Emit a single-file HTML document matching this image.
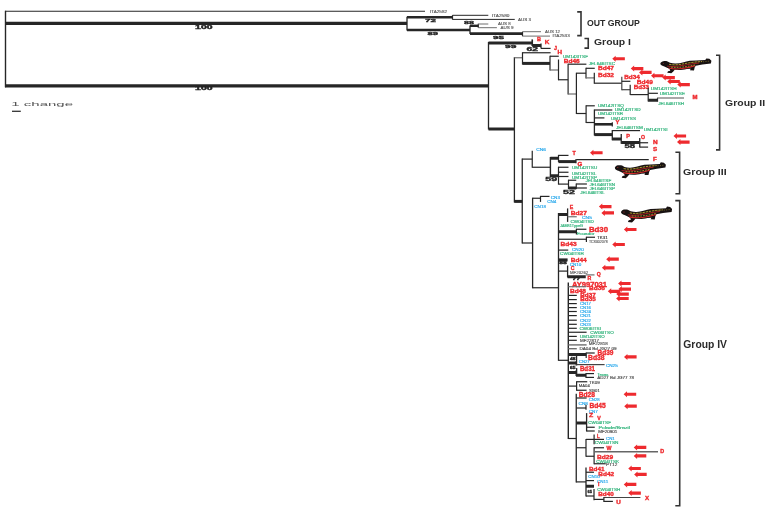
<!DOCTYPE html>
<html><head><meta charset="utf-8"><style>
html,body{margin:0;padding:0;background:#fff;}
svg{display:block;}
text{font-family:"Liberation Sans",sans-serif;}
svg{will-change:transform;}
</style></head><body>
<svg width="768" height="512" viewBox="0 0 768 512">
<defs><g id="sal">
<path d="M0.2,5.7 C0.8,4.2 2,3.4 3.2,3.3 C4.5,3.1 6,3.0 7.5,3.6 L9.9,4.9 C12,5.5 14,5.8 15.7,5.7 C18,5.5 20.5,5.0 22.7,4.5 C25,3.8 27.5,3.1 29.8,2.75 L36,2.4 L45.2,1.9 L46.2,0.25 L49.3,0.7 L51.3,2.8 L50.8,5.6 L42.3,6.7 L35.6,8.0 L34.6,9.8 L33.9,13.1 L29.8,12.9 L30.6,11.4 L26.65,11.7 C24,12.3 21,12.8 18.8,12.8 L14.6,12.4 L13.2,14.3 L11.2,16.3 L7.1,15.7 L7.9,14.0 L10.2,13.4 L9.3,11.4 C7.6,10.6 6.2,9.9 4.8,9.2 C3.4,8.6 2,8.2 1.3,7.7 C0.6,7.2 0.2,6.5 0.2,5.7 Z" fill="#181212"/>
<path d="M7,8.6 C11,9.0 15,9.0 19,8.4 C24,7.6 29,6.6 34,5.8 L39,5.2" fill="none" stroke="#c42626" stroke-width="0.8"/>
<path d="M8.5,10.6 C12,11.4 17,11.8 22,11.2 C27,10.5 31,9.6 35,8.2" fill="none" stroke="#d42a2a" stroke-width="1.1"/>
<path d="M9,6.6 C13,7.4 17,7.2 21,6.5 C26,5.5 31,4.6 36,4.0 L42,3.6" fill="none" stroke="#d8c03a" stroke-width="0.8" stroke-dasharray="2.4 0.8"/>
<path d="M11,9.7 C16,10.1 21,9.8 26,9.0 C29,8.5 32,7.9 35,7.2" fill="none" stroke="#d8c03a" stroke-width="0.7" stroke-dasharray="1.8 1.0"/>
<path d="M43,3.9 L49,3.2" fill="none" stroke="#a89a3a" stroke-width="0.6" stroke-dasharray="1 1.4"/>
<circle cx="3.2" cy="5.6" r="0.5" fill="#c83030"/>
</g></defs>
<rect width="768" height="512" fill="#fff"/>
<line x1="5.5" y1="10.8" x2="5.5" y2="87.3" stroke="#262626" stroke-width="1.4"/>
<line x1="5" y1="11.3" x2="425" y2="11.3" stroke="#262626" stroke-width="1.1"/>
<line x1="5" y1="23.4" x2="407" y2="23.4" stroke="#262626" stroke-width="3.2"/>
<line x1="5" y1="85.8" x2="489" y2="85.8" stroke="#262626" stroke-width="3.2"/>
<text transform="translate(195.1,28.55) scale(0.1)" font-size="45.06" fill="#222" font-weight="bold" stroke="#222" stroke-width="3" textLength="175" lengthAdjust="spacingAndGlyphs">100</text>
<text transform="translate(195.1,90.15) scale(0.1)" font-size="45.06" fill="#222" font-weight="bold" stroke="#222" stroke-width="3" textLength="175" lengthAdjust="spacingAndGlyphs">100</text>
<text transform="translate(11.3,106) scale(0.1)" font-size="49.42" fill="#555" textLength="617" lengthAdjust="spacingAndGlyphs">1 change</text>
<line x1="12" y1="111.3" x2="20.8" y2="111.3" stroke="#333" stroke-width="1.3"/>
<line x1="407" y1="16.7" x2="407" y2="30.5" stroke="#262626" stroke-width="1.3"/>
<line x1="407" y1="17.2" x2="452.5" y2="17.2" stroke="#262626" stroke-width="2.6"/>
<line x1="452.5" y1="15.2" x2="452.5" y2="19.6" stroke="#262626" stroke-width="1.2"/>
<line x1="452.5" y1="15.3" x2="488.3" y2="15.3" stroke="#262626" stroke-width="1"/>
<text transform="translate(492,16.5) scale(0.1)" font-size="37.79" fill="#555" stroke="#555" stroke-width="1.2" textLength="175" lengthAdjust="spacingAndGlyphs">ITA2580</text>
<line x1="452.5" y1="19.4" x2="514.75" y2="19.4" stroke="#262626" stroke-width="1"/>
<text transform="translate(518,20.7) scale(0.1)" font-size="37.79" fill="#555" stroke="#555" stroke-width="1.2" textLength="130" lengthAdjust="spacingAndGlyphs">AUS 3</text>
<text transform="translate(430,12.5) scale(0.1)" font-size="37.79" fill="#555" stroke="#555" stroke-width="1.2" textLength="170" lengthAdjust="spacingAndGlyphs">ITA2582</text>
<text transform="translate(425,21.9) scale(0.1)" font-size="43.6" fill="#222" font-weight="bold" stroke="#222" stroke-width="3" textLength="110" lengthAdjust="spacingAndGlyphs">72</text>
<line x1="407" y1="30" x2="470" y2="30" stroke="#262626" stroke-width="2.6"/>
<text transform="translate(427.5,34.8) scale(0.1)" font-size="40.7" fill="#222" font-weight="bold" stroke="#222" stroke-width="3" textLength="105" lengthAdjust="spacingAndGlyphs">89</text>
<line x1="470" y1="25.6" x2="470" y2="34" stroke="#262626" stroke-width="1.3"/>
<line x1="470" y1="25.8" x2="478.3" y2="25.8" stroke="#262626" stroke-width="2.4"/>
<line x1="478.3" y1="23.8" x2="478.3" y2="27.8" stroke="#262626" stroke-width="1.2"/>
<line x1="478.3" y1="24" x2="488.3" y2="24" stroke="#6e6e6e" stroke-width="1"/>
<text transform="translate(498,24.7) scale(0.1)" font-size="37.79" fill="#555" stroke="#555" stroke-width="1.2" textLength="127.5" lengthAdjust="spacingAndGlyphs">AUS 8</text>
<line x1="478.3" y1="27.7" x2="496.9" y2="27.7" stroke="#6e6e6e" stroke-width="1"/>
<text transform="translate(500.4,29.2) scale(0.1)" font-size="37.79" fill="#555" stroke="#555" stroke-width="1.2" textLength="131" lengthAdjust="spacingAndGlyphs">AUS 9</text>
<text transform="translate(464,23.9) scale(0.1)" font-size="40.7" fill="#222" font-weight="bold" stroke="#222" stroke-width="3" textLength="100" lengthAdjust="spacingAndGlyphs">88</text>
<line x1="470" y1="33.6" x2="522.5" y2="33.6" stroke="#262626" stroke-width="2.6"/>
<text transform="translate(493,38.7) scale(0.1)" font-size="40.7" fill="#222" font-weight="bold" stroke="#222" stroke-width="3" textLength="110" lengthAdjust="spacingAndGlyphs">95</text>
<line x1="522.5" y1="31.7" x2="522.5" y2="36.2" stroke="#262626" stroke-width="1.2"/>
<line x1="522.5" y1="31.7" x2="541" y2="31.7" stroke="#6e6e6e" stroke-width="1"/>
<text transform="translate(545,33.1) scale(0.1)" font-size="37.79" fill="#555" stroke="#555" stroke-width="1.2" textLength="150" lengthAdjust="spacingAndGlyphs">AUS 12</text>
<line x1="522.5" y1="36.1" x2="550" y2="36.1" stroke="#6e6e6e" stroke-width="1"/>
<text transform="translate(552.5,37.2) scale(0.1)" font-size="37.79" fill="#555" stroke="#555" stroke-width="1.2" textLength="172.5" lengthAdjust="spacingAndGlyphs">ITA2533</text>
<path d="M577.2,11.9 H581 V35.6 H577.2" fill="none" stroke="#333" stroke-width="1.6"/>
<text transform="translate(587,25.9) scale(0.1)" font-size="85.76" fill="#2b2b2b" font-weight="bold" textLength="527.5" lengthAdjust="spacingAndGlyphs">OUT GROUP</text>
<line x1="488.5" y1="42" x2="488.5" y2="129.5" stroke="#262626" stroke-width="1.3"/>
<line x1="488.5" y1="43" x2="532.25" y2="43" stroke="#262626" stroke-width="3"/>
<text transform="translate(505,48) scale(0.1)" font-size="40.7" fill="#222" font-weight="bold" stroke="#222" stroke-width="3" textLength="113" lengthAdjust="spacingAndGlyphs">99</text>
<line x1="532.25" y1="39.4" x2="532.25" y2="46" stroke="#262626" stroke-width="1.6"/>
<text transform="translate(537,40.55) scale(0.1)" font-size="52.33" fill="#ee2a2e" font-weight="bold" stroke="#ee2a2e" stroke-width="3.5" textLength="40" lengthAdjust="spacingAndGlyphs">B</text>
<line x1="532.25" y1="45.5" x2="541" y2="45.5" stroke="#262626" stroke-width="3"/>
<line x1="541" y1="43.6" x2="541" y2="48.4" stroke="#262626" stroke-width="1.3"/>
<text transform="translate(544.75,43.9) scale(0.1)" font-size="52.33" fill="#ee2a2e" font-weight="bold" stroke="#ee2a2e" stroke-width="3.5" textLength="46.5" lengthAdjust="spacingAndGlyphs">K</text>
<line x1="541" y1="48.4" x2="550.6" y2="48.4" stroke="#262626" stroke-width="1.2"/>
<text transform="translate(554,49.55) scale(0.1)" font-size="52.33" fill="#ee2a2e" font-weight="bold" stroke="#ee2a2e" stroke-width="3.5" textLength="30" lengthAdjust="spacingAndGlyphs">J</text>
<text transform="translate(526.5,50.8) scale(0.1)" font-size="49.42" fill="#222" font-weight="bold" stroke="#222" stroke-width="3" textLength="115" lengthAdjust="spacingAndGlyphs">62</text>
<path d="M584.45,38.5 H588.25 V48.1 H584.45" fill="none" stroke="#333" stroke-width="1.6"/>
<text transform="translate(594,44.6) scale(0.1)" font-size="88.66" fill="#2b2b2b" font-weight="bold" textLength="370" lengthAdjust="spacingAndGlyphs">Group I</text>
<line x1="488.5" y1="129" x2="514.5" y2="129" stroke="#262626" stroke-width="3"/>
<line x1="514.4" y1="57.2" x2="514.4" y2="202.5" stroke="#262626" stroke-width="1.3"/>
<line x1="514.4" y1="57.75" x2="522.5" y2="57.75" stroke="#6e6e6e" stroke-width="1.2"/>
<line x1="522.5" y1="52.2" x2="522.5" y2="64.5" stroke="#262626" stroke-width="1.2"/>
<line x1="522.5" y1="52.75" x2="550.6" y2="52.75" stroke="#262626" stroke-width="1.2"/>
<text transform="translate(557.5,53.9) scale(0.1)" font-size="52.33" fill="#ee2a2e" font-weight="bold" stroke="#ee2a2e" stroke-width="3.5" textLength="45" lengthAdjust="spacingAndGlyphs">H</text>
<line x1="522.5" y1="63.4" x2="550" y2="63.4" stroke="#262626" stroke-width="3"/>
<line x1="550" y1="55.7" x2="550" y2="70.5" stroke="#262626" stroke-width="1.2"/>
<line x1="550" y1="56.25" x2="558.75" y2="56.25" stroke="#262626" stroke-width="1.2"/>
<text transform="translate(563,57.7) scale(0.1)" font-size="43.6" fill="#2fb37a" stroke="#2fb37a" stroke-width="1.8" textLength="250" lengthAdjust="spacingAndGlyphs">UM143ITSF</text>
<line x1="550" y1="70" x2="558.5" y2="70" stroke="#6e6e6e" stroke-width="1.2"/>
<line x1="558.5" y1="59.5" x2="558.5" y2="80.3" stroke="#262626" stroke-width="1.2"/>
<text transform="translate(563.75,63.25) scale(0.1)" font-size="56.69" fill="#ee2a2e" font-weight="bold" stroke="#ee2a2e" stroke-width="3.5" textLength="160" lengthAdjust="spacingAndGlyphs">Bd46</text>
<line x1="558.5" y1="79.75" x2="568.1" y2="79.75" stroke="#262626" stroke-width="1.2"/>
<line x1="568.1" y1="63.7" x2="568.1" y2="94.5" stroke="#262626" stroke-width="1.2"/>
<line x1="568.1" y1="64.2" x2="586.4" y2="64.2" stroke="#262626" stroke-width="1.2"/>
<text transform="translate(588.7,65.2) scale(0.1)" font-size="43.6" fill="#2fb37a" stroke="#2fb37a" stroke-width="1.8" textLength="263" lengthAdjust="spacingAndGlyphs">JEL646ITSC</text>
<line x1="568.1" y1="94" x2="576.4" y2="94" stroke="#6e6e6e" stroke-width="1.2"/>
<line x1="576.4" y1="72.7" x2="576.4" y2="114" stroke="#262626" stroke-width="1.2"/>
<line x1="576.4" y1="73.2" x2="586" y2="73.2" stroke="#262626" stroke-width="1.2"/>
<line x1="586" y1="67.8" x2="586" y2="78.4" stroke="#262626" stroke-width="1.2"/>
<line x1="586" y1="68.3" x2="594.75" y2="68.3" stroke="#262626" stroke-width="1.2"/>
<text transform="translate(598,70.05) scale(0.1)" font-size="59.59" fill="#ee2a2e" font-weight="bold" stroke="#ee2a2e" stroke-width="3.5" textLength="160" lengthAdjust="spacingAndGlyphs">Bd47</text>
<line x1="586" y1="77.9" x2="594.3" y2="77.9" stroke="#6e6e6e" stroke-width="1.2"/>
<line x1="594.3" y1="72.8" x2="594.3" y2="83.8" stroke="#262626" stroke-width="1.2"/>
<text transform="translate(598,76.65) scale(0.1)" font-size="59.59" fill="#ee2a2e" font-weight="bold" stroke="#ee2a2e" stroke-width="3.5" textLength="160" lengthAdjust="spacingAndGlyphs">Bd32</text>
<line x1="594.3" y1="83.2" x2="621.8" y2="83.2" stroke="#262626" stroke-width="1.2"/>
<line x1="621.8" y1="76.7" x2="621.8" y2="90.2" stroke="#444" stroke-width="1.2"/>
<text transform="translate(624.2,78.65) scale(0.1)" font-size="59.59" fill="#ee2a2e" font-weight="bold" stroke="#ee2a2e" stroke-width="3.5" textLength="155.5" lengthAdjust="spacingAndGlyphs">Bd34</text>
<line x1="621.8" y1="81.3" x2="630.4" y2="81.3" stroke="#262626" stroke-width="1.2"/>
<text transform="translate(636.7,83.65) scale(0.1)" font-size="59.59" fill="#ee2a2e" font-weight="bold" stroke="#ee2a2e" stroke-width="3.5" textLength="162" lengthAdjust="spacingAndGlyphs">Bd49</text>
<line x1="621.8" y1="89.7" x2="630.2" y2="89.7" stroke="#444" stroke-width="1.2"/>
<line x1="630.2" y1="84.7" x2="630.2" y2="95" stroke="#262626" stroke-width="1.2"/>
<text transform="translate(633.75,89.45) scale(0.1)" font-size="59.59" fill="#ee2a2e" font-weight="bold" stroke="#ee2a2e" stroke-width="3.5" textLength="152.5" lengthAdjust="spacingAndGlyphs">Bd33</text>
<line x1="630.2" y1="94.6" x2="648.2" y2="94.6" stroke="#262626" stroke-width="1.2"/>
<line x1="648.2" y1="87.7" x2="648.2" y2="101.5" stroke="#262626" stroke-width="1.2"/>
<text transform="translate(650.8,90.2) scale(0.1)" font-size="43.6" fill="#2fb37a" stroke="#2fb37a" stroke-width="1.8" textLength="258" lengthAdjust="spacingAndGlyphs">UM142ITSH</text>
<line x1="648.2" y1="93.3" x2="657.9" y2="93.3" stroke="#262626" stroke-width="1.2"/>
<text transform="translate(659.75,94.5) scale(0.1)" font-size="43.6" fill="#2fb37a" stroke="#2fb37a" stroke-width="1.8" textLength="252.5" lengthAdjust="spacingAndGlyphs">UM142ITSE</text>
<line x1="648.2" y1="100.25" x2="657.5" y2="100.25" stroke="#262626" stroke-width="3"/>
<line x1="657.5" y1="97.7" x2="657.5" y2="101.7" stroke="#262626" stroke-width="1.2"/>
<line x1="657.5" y1="98" x2="684" y2="98" stroke="#6e6e6e" stroke-width="1.2"/>
<text transform="translate(692.5,98.6) scale(0.1)" font-size="49.42" fill="#ee2a2e" font-weight="bold" stroke="#ee2a2e" stroke-width="3.5" textLength="50" lengthAdjust="spacingAndGlyphs">M</text>
<text transform="translate(658.2,104.5) scale(0.1)" font-size="43.6" fill="#2fb37a" stroke="#2fb37a" stroke-width="1.8" textLength="258" lengthAdjust="spacingAndGlyphs">JEL646ITSH</text>
<line x1="576.4" y1="113.5" x2="586.1" y2="113.5" stroke="#262626" stroke-width="1.2"/>
<line x1="586.1" y1="105.3" x2="586.1" y2="123" stroke="#262626" stroke-width="1.2"/>
<line x1="586.1" y1="105.8" x2="594.8" y2="105.8" stroke="#262626" stroke-width="1.2"/>
<text transform="translate(597.9,107.3) scale(0.1)" font-size="43.6" fill="#2fb37a" stroke="#2fb37a" stroke-width="1.8" textLength="260" lengthAdjust="spacingAndGlyphs">UM142ITSQ</text>
<line x1="586.1" y1="122.5" x2="594.4" y2="122.5" stroke="#262626" stroke-width="1.2"/>
<line x1="594.4" y1="109.5" x2="594.4" y2="135.5" stroke="#262626" stroke-width="1.3"/>
<line x1="594.4" y1="110" x2="612.3" y2="110" stroke="#262626" stroke-width="1.2"/>
<text transform="translate(614.8,111.3) scale(0.1)" font-size="43.6" fill="#2fb37a" stroke="#2fb37a" stroke-width="1.8" textLength="259" lengthAdjust="spacingAndGlyphs">UM142ITSD</text>
<text transform="translate(598,115.3) scale(0.1)" font-size="43.6" fill="#2fb37a" stroke="#2fb37a" stroke-width="1.8" textLength="250" lengthAdjust="spacingAndGlyphs">UM142ITSR</text>
<line x1="594.4" y1="117.9" x2="604.4" y2="117.9" stroke="#262626" stroke-width="1.2"/>
<text transform="translate(611,119.8) scale(0.1)" font-size="43.6" fill="#2fb37a" stroke="#2fb37a" stroke-width="1.8" textLength="250" lengthAdjust="spacingAndGlyphs">UM142ITSS</text>
<line x1="594.4" y1="124.3" x2="612.3" y2="124.3" stroke="#262626" stroke-width="2.6"/>
<line x1="612.3" y1="122.3" x2="612.3" y2="126.5" stroke="#262626" stroke-width="1.2"/>
<text transform="translate(615.5,123.8) scale(0.1)" font-size="52.33" fill="#ee2a2e" font-weight="bold" stroke="#ee2a2e" stroke-width="3.5" textLength="39" lengthAdjust="spacingAndGlyphs">Y</text>
<text transform="translate(616,128.6) scale(0.1)" font-size="43.6" fill="#2fb37a" stroke="#2fb37a" stroke-width="1.8" textLength="267.5" lengthAdjust="spacingAndGlyphs">JEL646ITSM</text>
<line x1="594.4" y1="134.6" x2="612.3" y2="134.6" stroke="#262626" stroke-width="3"/>
<line x1="612.3" y1="130.1" x2="612.3" y2="140.3" stroke="#262626" stroke-width="1.3"/>
<line x1="612.3" y1="130.6" x2="640" y2="130.6" stroke="#262626" stroke-width="1.2"/>
<text transform="translate(643.75,131.1) scale(0.1)" font-size="43.6" fill="#2fb37a" stroke="#2fb37a" stroke-width="1.8" textLength="237.5" lengthAdjust="spacingAndGlyphs">UM142ITSI</text>
<line x1="612.3" y1="139" x2="621.25" y2="139" stroke="#262626" stroke-width="3"/>
<line x1="621.25" y1="134.1" x2="621.25" y2="143.8" stroke="#262626" stroke-width="1.3"/>
<text transform="translate(626.25,137.9) scale(0.1)" font-size="52.33" fill="#ee2a2e" font-weight="bold" stroke="#ee2a2e" stroke-width="3.5" textLength="37.5" lengthAdjust="spacingAndGlyphs">P</text>
<line x1="621.25" y1="142.5" x2="639.75" y2="142.5" stroke="#262626" stroke-width="3"/>
<line x1="639.75" y1="137.9" x2="639.75" y2="147.6" stroke="#262626" stroke-width="1.3"/>
<text transform="translate(641,138.7) scale(0.1)" font-size="52.33" fill="#ee2a2e" font-weight="bold" stroke="#ee2a2e" stroke-width="3.5" textLength="40" lengthAdjust="spacingAndGlyphs">O</text>
<line x1="639.75" y1="142.75" x2="648.1" y2="142.75" stroke="#262626" stroke-width="1.2"/>
<text transform="translate(653.1,143.7) scale(0.1)" font-size="52.33" fill="#ee2a2e" font-weight="bold" stroke="#ee2a2e" stroke-width="3.5" textLength="46.5" lengthAdjust="spacingAndGlyphs">N</text>
<line x1="639.75" y1="147.1" x2="648.1" y2="147.1" stroke="#262626" stroke-width="1.2"/>
<text transform="translate(653.1,150.55) scale(0.1)" font-size="52.33" fill="#ee2a2e" font-weight="bold" stroke="#ee2a2e" stroke-width="3.5" textLength="41.5" lengthAdjust="spacingAndGlyphs">S</text>
<text transform="translate(624.4,147.7) scale(0.1)" font-size="52.33" fill="#222" font-weight="bold" stroke="#222" stroke-width="3" textLength="106" lengthAdjust="spacingAndGlyphs">58</text>
<path d="M716,55.3 H719.6 V149.9 H716" fill="none" stroke="#333" stroke-width="1.6"/>
<text transform="translate(725.1,105.5) scale(0.1)" font-size="87.21" fill="#2b2b2b" font-weight="bold" textLength="400" lengthAdjust="spacingAndGlyphs">Group II</text>
<path d="M612.25,58.75 L615.65,55.75 L615.65,57.15 L624.85,57.15 L624.85,60.35 L615.65,60.35 L615.65,61.75 Z" fill="#ee2a2e"/>
<path d="M630.75,68.6 L634.15,65.6 L634.15,67 L643.35,67 L643.35,70.2 L634.15,70.2 L634.15,71.6 Z" fill="#ee2a2e"/>
<path d="M639,72.4 L642.4,69.4 L642.4,70.8 L651.6,70.8 L651.6,74 L642.4,74 L642.4,75.4 Z" fill="#ee2a2e"/>
<path d="M651,75.75 L654.4,72.75 L654.4,74.15 L663.6,74.15 L663.6,77.35 L654.4,77.35 L654.4,78.75 Z" fill="#ee2a2e"/>
<path d="M662.25,77.6 L665.65,74.6 L665.65,76 L674.85,76 L674.85,79.2 L665.65,79.2 L665.65,80.6 Z" fill="#ee2a2e"/>
<path d="M667.25,81.5 L670.65,78.5 L670.65,79.9 L679.85,79.9 L679.85,83.1 L670.65,83.1 L670.65,84.5 Z" fill="#ee2a2e"/>
<path d="M677.25,84.6 L680.65,81.6 L680.65,83 L689.85,83 L689.85,86.2 L680.65,86.2 L680.65,87.6 Z" fill="#ee2a2e"/>
<path d="M673.5,136 L676.9,133 L676.9,134.4 L686.1,134.4 L686.1,137.6 L676.9,137.6 L676.9,139 Z" fill="#ee2a2e"/>
<path d="M677,142.1 L680.4,139.1 L680.4,140.5 L689.6,140.5 L689.6,143.7 L680.4,143.7 L680.4,145.1 Z" fill="#ee2a2e"/>
<use href="#sal" transform="translate(660.1,58.2) scale(1,0.93)"/>
<line x1="514.4" y1="201.4" x2="522.25" y2="201.4" stroke="#262626" stroke-width="3"/>
<line x1="522.25" y1="158.6" x2="522.25" y2="243.5" stroke="#262626" stroke-width="1.3"/>
<line x1="522.25" y1="159.1" x2="532.25" y2="159.1" stroke="#262626" stroke-width="1.2"/>
<line x1="532.25" y1="150.7" x2="532.25" y2="167.8" stroke="#262626" stroke-width="1.2"/>
<text transform="translate(536.25,151.25) scale(0.1)" font-size="43.6" fill="#2aa9ec" stroke="#2aa9ec" stroke-width="1.8" textLength="97.5" lengthAdjust="spacingAndGlyphs">CN6</text>
<line x1="532.25" y1="167.25" x2="550.4" y2="167.25" stroke="#262626" stroke-width="1.2"/>
<line x1="550.4" y1="157" x2="550.4" y2="177" stroke="#262626" stroke-width="1.4"/>
<line x1="550.4" y1="158.25" x2="558.5" y2="158.25" stroke="#262626" stroke-width="3"/>
<line x1="558.5" y1="154.9" x2="558.5" y2="162.1" stroke="#262626" stroke-width="1.2"/>
<line x1="558.5" y1="155.4" x2="568.5" y2="155.4" stroke="#262626" stroke-width="1.2"/>
<text transform="translate(572.5,155.2) scale(0.1)" font-size="52.33" fill="#ee2a2e" font-weight="bold" stroke="#ee2a2e" stroke-width="3.5" textLength="32.5" lengthAdjust="spacingAndGlyphs">T</text>
<line x1="558.5" y1="161.6" x2="576" y2="161.6" stroke="#262626" stroke-width="3"/>
<line x1="576" y1="158.9" x2="576" y2="163.2" stroke="#262626" stroke-width="1.2"/>
<line x1="576.25" y1="159.6" x2="648.75" y2="159.6" stroke="#262626" stroke-width="1.2"/>
<text transform="translate(653.1,161.3) scale(0.1)" font-size="52.33" fill="#ee2a2e" font-weight="bold" stroke="#ee2a2e" stroke-width="3.5" textLength="38" lengthAdjust="spacingAndGlyphs">F</text>
<text transform="translate(577.5,166.05) scale(0.1)" font-size="52.33" fill="#ee2a2e" font-weight="bold" stroke="#ee2a2e" stroke-width="3.5" textLength="47.5" lengthAdjust="spacingAndGlyphs">G</text>
<line x1="550.4" y1="175.75" x2="558.5" y2="175.75" stroke="#262626" stroke-width="3"/>
<text transform="translate(545.3,180.6) scale(0.1)" font-size="52.33" fill="#222" font-weight="bold" stroke="#222" stroke-width="3" textLength="119" lengthAdjust="spacingAndGlyphs">59</text>
<line x1="558.5" y1="166.7" x2="558.5" y2="184.6" stroke="#262626" stroke-width="1.2"/>
<line x1="558.5" y1="167.25" x2="568.5" y2="167.25" stroke="#262626" stroke-width="1.2"/>
<text transform="translate(572,169.3) scale(0.1)" font-size="43.6" fill="#2fb37a" stroke="#2fb37a" stroke-width="1.8" textLength="252.5" lengthAdjust="spacingAndGlyphs">UM142ITSU</text>
<line x1="558.5" y1="172.25" x2="568.5" y2="172.25" stroke="#262626" stroke-width="1.2"/>
<text transform="translate(572,174.5) scale(0.1)" font-size="43.6" fill="#2fb37a" stroke="#2fb37a" stroke-width="1.8" textLength="242.5" lengthAdjust="spacingAndGlyphs">UM142ITSL</text>
<line x1="558.5" y1="176.5" x2="568.5" y2="176.5" stroke="#262626" stroke-width="1.2"/>
<text transform="translate(572,178.6) scale(0.1)" font-size="43.6" fill="#2fb37a" stroke="#2fb37a" stroke-width="1.8" textLength="250" lengthAdjust="spacingAndGlyphs">UM142ITSP</text>
<line x1="558.5" y1="184.1" x2="568.5" y2="184.1" stroke="#262626" stroke-width="1.2"/>
<line x1="568.5" y1="179.7" x2="568.5" y2="189" stroke="#262626" stroke-width="1.2"/>
<line x1="568.5" y1="180.25" x2="576.25" y2="180.25" stroke="#262626" stroke-width="1.2"/>
<text transform="translate(585.6,182) scale(0.1)" font-size="43.6" fill="#2fb37a" stroke="#2fb37a" stroke-width="1.8" textLength="256.5" lengthAdjust="spacingAndGlyphs">JEL646ITSF</text>
<line x1="568.5" y1="188" x2="576.25" y2="188" stroke="#262626" stroke-width="3"/>
<line x1="576.25" y1="183.5" x2="576.25" y2="189" stroke="#262626" stroke-width="1.2"/>
<line x1="576.25" y1="184" x2="586.9" y2="184" stroke="#262626" stroke-width="1.2"/>
<text transform="translate(589.4,186.1) scale(0.1)" font-size="43.6" fill="#2fb37a" stroke="#2fb37a" stroke-width="1.8" textLength="256" lengthAdjust="spacingAndGlyphs">JEL646ITSN</text>
<line x1="576.25" y1="188" x2="586.9" y2="188" stroke="#262626" stroke-width="1.2"/>
<text transform="translate(589.4,189.9) scale(0.1)" font-size="43.6" fill="#2fb37a" stroke="#2fb37a" stroke-width="1.8" textLength="256" lengthAdjust="spacingAndGlyphs">JEL646ITSP</text>
<text transform="translate(580.25,193.6) scale(0.1)" font-size="43.6" fill="#2fb37a" stroke="#2fb37a" stroke-width="1.8" textLength="245" lengthAdjust="spacingAndGlyphs">JEL646ITSL</text>
<text transform="translate(563.1,193.75) scale(0.1)" font-size="53.78" fill="#222" font-weight="bold" stroke="#222" stroke-width="3" textLength="119" lengthAdjust="spacingAndGlyphs">52</text>
<path d="M675.4,152.3 H679.6 V193.7 H675.4" fill="none" stroke="#333" stroke-width="1.6"/>
<text transform="translate(683,175.2) scale(0.1)" font-size="94.48" fill="#2b2b2b" font-weight="bold" textLength="437" lengthAdjust="spacingAndGlyphs">Group III</text>
<path d="M590,152.75 L593.4,149.75 L593.4,151.15 L602.6,151.15 L602.6,154.35 L593.4,154.35 L593.4,155.75 Z" fill="#ee2a2e"/>
<use href="#sal" transform="translate(614.6,162) scale(1,1)"/>
<line x1="522.25" y1="243" x2="532.6" y2="243" stroke="#262626" stroke-width="1.2"/>
<line x1="532.6" y1="197.7" x2="532.6" y2="288.3" stroke="#262626" stroke-width="1.3"/>
<line x1="532.6" y1="198.25" x2="540.5" y2="198.25" stroke="#262626" stroke-width="1.2"/>
<line x1="540.5" y1="195.9" x2="540.5" y2="201.9" stroke="#262626" stroke-width="1.2"/>
<line x1="540.5" y1="196.4" x2="549.5" y2="196.4" stroke="#262626" stroke-width="1.2"/>
<text transform="translate(550.75,198.75) scale(0.1)" font-size="43.6" fill="#2aa9ec" stroke="#2aa9ec" stroke-width="1.8" textLength="92.5" lengthAdjust="spacingAndGlyphs">CN3</text>
<text transform="translate(547.25,203.25) scale(0.1)" font-size="43.6" fill="#2aa9ec" stroke="#2aa9ec" stroke-width="1.8" textLength="91.5" lengthAdjust="spacingAndGlyphs">CN4</text>
<text transform="translate(534.25,207.5) scale(0.1)" font-size="43.6" fill="#2aa9ec" stroke="#2aa9ec" stroke-width="1.8" textLength="117.5" lengthAdjust="spacingAndGlyphs">CN18</text>
<line x1="532.6" y1="287.75" x2="558.5" y2="287.75" stroke="#262626" stroke-width="1.2"/>
<line x1="558.5" y1="213" x2="558.5" y2="360.8" stroke="#262626" stroke-width="1.3"/>
<line x1="558.5" y1="214.5" x2="567.6" y2="214.5" stroke="#262626" stroke-width="3"/>
<line x1="567.6" y1="208.4" x2="567.6" y2="221.9" stroke="#262626" stroke-width="1.3"/>
<text transform="translate(569.75,208.9) scale(0.1)" font-size="55.23" fill="#ee2a2e" font-weight="bold" stroke="#ee2a2e" stroke-width="3.5" textLength="35" lengthAdjust="spacingAndGlyphs">E</text>
<text transform="translate(570.75,215.35) scale(0.1)" font-size="61.05" fill="#ee2a2e" font-weight="bold" stroke="#ee2a2e" stroke-width="3.5" textLength="162.5" lengthAdjust="spacingAndGlyphs">Bd27</text>
<line x1="567.6" y1="216.75" x2="576.75" y2="216.75" stroke="#6e6e6e" stroke-width="1.2"/>
<text transform="translate(582,218.5) scale(0.1)" font-size="43.6" fill="#2aa9ec" stroke="#2aa9ec" stroke-width="1.8" textLength="100" lengthAdjust="spacingAndGlyphs">CN5</text>
<text transform="translate(570.5,222.9) scale(0.1)" font-size="43.6" fill="#2fb37a" stroke="#2fb37a" stroke-width="1.8" textLength="234" lengthAdjust="spacingAndGlyphs">CW04ITSD</text>
<text transform="translate(560,227) scale(0.1)" font-size="43.6" fill="#2fb37a" stroke="#2fb37a" stroke-width="1.8" textLength="230" lengthAdjust="spacingAndGlyphs">JAM81TypeG</text>
<line x1="558.5" y1="231.75" x2="576.4" y2="231.75" stroke="#262626" stroke-width="3"/>
<line x1="576.4" y1="228.75" x2="576.4" y2="234.4" stroke="#262626" stroke-width="1.2"/>
<line x1="576.4" y1="229.25" x2="586.4" y2="229.25" stroke="#262626" stroke-width="1.2"/>
<text transform="translate(588.9,231.8) scale(0.1)" font-size="66.86" fill="#ee2a2e" font-weight="bold" stroke="#ee2a2e" stroke-width="3.5" textLength="191" lengthAdjust="spacingAndGlyphs">Bd30</text>
<text transform="translate(577,235.4) scale(0.1)" font-size="43.6" fill="#2fb37a" stroke="#2fb37a" stroke-width="1.8" textLength="175" lengthAdjust="spacingAndGlyphs">Ecuador</text>
<line x1="558.5" y1="239.25" x2="586.4" y2="239.25" stroke="#262626" stroke-width="1.2"/>
<line x1="586.4" y1="236.75" x2="586.4" y2="241.9" stroke="#262626" stroke-width="1.2"/>
<line x1="586.4" y1="237.25" x2="595" y2="237.25" stroke="#262626" stroke-width="1.2"/>
<text transform="translate(597,238.6) scale(0.1)" font-size="39.24" fill="#333" stroke="#333" stroke-width="1.2" textLength="106" lengthAdjust="spacingAndGlyphs">TK31</text>
<text transform="translate(588.9,243.25) scale(0.1)" font-size="39.24" fill="#555" stroke="#555" stroke-width="1.2" textLength="187" lengthAdjust="spacingAndGlyphs">TCS002078</text>
<text transform="translate(560.5,246) scale(0.1)" font-size="61.05" fill="#ee2a2e" font-weight="bold" stroke="#ee2a2e" stroke-width="3.5" textLength="162.5" lengthAdjust="spacingAndGlyphs">Bd43</text>
<line x1="558.5" y1="250.1" x2="568.25" y2="250.1" stroke="#262626" stroke-width="1.2"/>
<text transform="translate(572,251.25) scale(0.1)" font-size="43.6" fill="#2aa9ec" stroke="#2aa9ec" stroke-width="1.8" textLength="119" lengthAdjust="spacingAndGlyphs">CN20</text>
<text transform="translate(560.1,255.4) scale(0.1)" font-size="43.6" fill="#2fb37a" stroke="#2fb37a" stroke-width="1.8" textLength="238" lengthAdjust="spacingAndGlyphs">CW04ITSR</text>
<line x1="558.5" y1="259.9" x2="567.6" y2="259.9" stroke="#262626" stroke-width="3"/>
<text transform="translate(570.75,261.6) scale(0.1)" font-size="61.05" fill="#ee2a2e" font-weight="bold" stroke="#ee2a2e" stroke-width="3.5" textLength="160" lengthAdjust="spacingAndGlyphs">Bd44</text>
<text transform="translate(559.25,264.45) scale(0.1)" font-size="34.88" fill="#222" font-weight="bold" stroke="#222" stroke-width="3" textLength="77.5" lengthAdjust="spacingAndGlyphs">88</text>
<line x1="558.5" y1="271.1" x2="567.6" y2="271.1" stroke="#262626" stroke-width="1.2"/>
<line x1="567.6" y1="265.5" x2="567.6" y2="277.5" stroke="#262626" stroke-width="1.3"/>
<text transform="translate(569.75,265.75) scale(0.1)" font-size="43.6" fill="#2aa9ec" stroke="#2aa9ec" stroke-width="1.8" textLength="116.5" lengthAdjust="spacingAndGlyphs">CN10</text>
<text transform="translate(570.75,269.9) scale(0.1)" font-size="55.23" fill="#ee2a2e" font-weight="bold" stroke="#ee2a2e" stroke-width="3.5" textLength="37.5" lengthAdjust="spacingAndGlyphs">C</text>
<text transform="translate(570,274.35) scale(0.1)" font-size="39.24" fill="#555" stroke="#555" stroke-width="1.2" textLength="182.5" lengthAdjust="spacingAndGlyphs">MF20262</text>
<line x1="567.6" y1="276.75" x2="585.75" y2="276.75" stroke="#262626" stroke-width="3"/>
<line x1="585.75" y1="274.9" x2="594.5" y2="274.9" stroke="#6e6e6e" stroke-width="1.2"/>
<text transform="translate(596.75,276.4) scale(0.1)" font-size="52.33" fill="#ee2a2e" font-weight="bold" stroke="#ee2a2e" stroke-width="3.5" textLength="40" lengthAdjust="spacingAndGlyphs">Q</text>
<text transform="translate(587.6,279.8) scale(0.1)" font-size="52.33" fill="#ee2a2e" font-weight="bold" stroke="#ee2a2e" stroke-width="3.5" textLength="38" lengthAdjust="spacingAndGlyphs">R</text>
<text transform="translate(572,280.4) scale(0.1)" font-size="31.98" fill="#222" font-weight="bold" stroke="#222" stroke-width="3" textLength="80" lengthAdjust="spacingAndGlyphs">??</text>
<line x1="558.5" y1="360.3" x2="568.3" y2="360.3" stroke="#262626" stroke-width="1.2"/>
<line x1="568.3" y1="282.5" x2="568.3" y2="439" stroke="#262626" stroke-width="1.4"/>
<text transform="translate(572,286.5) scale(0.1)" font-size="66.86" fill="#ee2a2e" font-weight="bold" stroke="#ee2a2e" stroke-width="3.5" textLength="350" lengthAdjust="spacingAndGlyphs">AY997031</text>
<line x1="568.3" y1="286.7" x2="586.2" y2="286.7" stroke="#6e6e6e" stroke-width="1.2"/>
<text transform="translate(589,290.2) scale(0.1)" font-size="55.23" fill="#ee2a2e" font-weight="bold" stroke="#ee2a2e" stroke-width="3.5" textLength="160" lengthAdjust="spacingAndGlyphs">Bd36</text>
<text transform="translate(570,292.7) scale(0.1)" font-size="55.23" fill="#ee2a2e" font-weight="bold" stroke="#ee2a2e" stroke-width="3.5" textLength="160" lengthAdjust="spacingAndGlyphs">Bd48</text>
<line x1="568.3" y1="295.4" x2="576.8" y2="295.4" stroke="#262626" stroke-width="1.2"/>
<line x1="568.3" y1="299.6" x2="576.8" y2="299.6" stroke="#262626" stroke-width="1.2"/>
<line x1="568.3" y1="303.6" x2="576.8" y2="303.6" stroke="#262626" stroke-width="1.2"/>
<line x1="568.3" y1="307.6" x2="576.8" y2="307.6" stroke="#262626" stroke-width="1.2"/>
<line x1="568.3" y1="311.5" x2="576.8" y2="311.5" stroke="#262626" stroke-width="1.2"/>
<line x1="568.3" y1="315.6" x2="576.8" y2="315.6" stroke="#262626" stroke-width="1.2"/>
<line x1="568.3" y1="320.2" x2="576.8" y2="320.2" stroke="#262626" stroke-width="1.2"/>
<line x1="568.3" y1="324.3" x2="576.8" y2="324.3" stroke="#262626" stroke-width="1.2"/>
<line x1="568.3" y1="328.3" x2="576.8" y2="328.3" stroke="#262626" stroke-width="1.2"/>
<line x1="568.3" y1="336.4" x2="576.8" y2="336.4" stroke="#262626" stroke-width="1.2"/>
<line x1="568.3" y1="340.3" x2="576.8" y2="340.3" stroke="#262626" stroke-width="1.2"/>
<line x1="568.3" y1="332.25" x2="586.6" y2="332.25" stroke="#262626" stroke-width="1.2"/>
<line x1="568.3" y1="344.9" x2="586.6" y2="344.9" stroke="#6e6e6e" stroke-width="1.4"/>
<line x1="568.3" y1="348.7" x2="576.8" y2="348.7" stroke="#6e6e6e" stroke-width="1.4"/>
<text transform="translate(580.3,296.55) scale(0.1)" font-size="56.69" fill="#ee2a2e" font-weight="bold" stroke="#ee2a2e" stroke-width="3.5" textLength="154.5" lengthAdjust="spacingAndGlyphs">Bd37</text>
<text transform="translate(580.3,301.25) scale(0.1)" font-size="56.69" fill="#ee2a2e" font-weight="bold" stroke="#ee2a2e" stroke-width="3.5" textLength="154.5" lengthAdjust="spacingAndGlyphs">Bd35</text>
<text transform="translate(580,305.25) scale(0.1)" font-size="43.6" fill="#2aa9ec" stroke="#2aa9ec" stroke-width="1.8" textLength="110" lengthAdjust="spacingAndGlyphs">CN17</text>
<text transform="translate(580,309) scale(0.1)" font-size="43.6" fill="#2aa9ec" stroke="#2aa9ec" stroke-width="1.8" textLength="110" lengthAdjust="spacingAndGlyphs">CN16</text>
<text transform="translate(580,312.75) scale(0.1)" font-size="43.6" fill="#2aa9ec" stroke="#2aa9ec" stroke-width="1.8" textLength="110" lengthAdjust="spacingAndGlyphs">CN24</text>
<text transform="translate(580,316.8) scale(0.1)" font-size="43.6" fill="#2aa9ec" stroke="#2aa9ec" stroke-width="1.8" textLength="110" lengthAdjust="spacingAndGlyphs">CN21</text>
<text transform="translate(580,321.5) scale(0.1)" font-size="43.6" fill="#2aa9ec" stroke="#2aa9ec" stroke-width="1.8" textLength="110" lengthAdjust="spacingAndGlyphs">CN22</text>
<text transform="translate(580,325.8) scale(0.1)" font-size="43.6" fill="#2aa9ec" stroke="#2aa9ec" stroke-width="1.8" textLength="110" lengthAdjust="spacingAndGlyphs">CN23</text>
<text transform="translate(579.5,329.75) scale(0.1)" font-size="43.6" fill="#2fb37a" stroke="#2fb37a" stroke-width="1.8" textLength="215" lengthAdjust="spacingAndGlyphs">CW06ITSI</text>
<text transform="translate(590.3,333.5) scale(0.1)" font-size="43.6" fill="#2fb37a" stroke="#2fb37a" stroke-width="1.8" textLength="234" lengthAdjust="spacingAndGlyphs">CW06ITSO</text>
<text transform="translate(580,337.7) scale(0.1)" font-size="43.6" fill="#2fb37a" stroke="#2fb37a" stroke-width="1.8" textLength="247" lengthAdjust="spacingAndGlyphs">UM142ITSO</text>
<text transform="translate(580,342.1) scale(0.1)" font-size="39.24" fill="#444" stroke="#444" stroke-width="1.2" textLength="190" lengthAdjust="spacingAndGlyphs">MF22817</text>
<text transform="translate(588.7,345.35) scale(0.1)" font-size="39.24" fill="#444" stroke="#444" stroke-width="1.2" textLength="191" lengthAdjust="spacingAndGlyphs">MF22818</text>
<text transform="translate(579.5,350.05) scale(0.1)" font-size="39.24" fill="#444" stroke="#444" stroke-width="1.2" textLength="370" lengthAdjust="spacingAndGlyphs">DA04 Bd JG27 09</text>
<line x1="568.3" y1="354.5" x2="586.2" y2="354.5" stroke="#262626" stroke-width="3"/>
<line x1="586.2" y1="352.5" x2="586.2" y2="358" stroke="#262626" stroke-width="1.2"/>
<line x1="586.2" y1="353" x2="594.7" y2="353" stroke="#262626" stroke-width="1.2"/>
<text transform="translate(597.5,354.95) scale(0.1)" font-size="63.95" fill="#ee2a2e" font-weight="bold" stroke="#ee2a2e" stroke-width="3.5" textLength="159" lengthAdjust="spacingAndGlyphs">Bd39</text>
<text transform="translate(588,359.8) scale(0.1)" font-size="66.86" fill="#ee2a2e" font-weight="bold" stroke="#ee2a2e" stroke-width="3.5" textLength="166" lengthAdjust="spacingAndGlyphs">Bd38</text>
<line x1="568.3" y1="363" x2="576.4" y2="363" stroke="#262626" stroke-width="3"/>
<line x1="576.4" y1="354.5" x2="576.4" y2="365.5" stroke="#262626" stroke-width="1.6"/>
<line x1="576.4" y1="364.6" x2="604.6" y2="364.6" stroke="#444" stroke-width="1.2"/>
<text transform="translate(605.9,366.5) scale(0.1)" font-size="43.6" fill="#2aa9ec" stroke="#2aa9ec" stroke-width="1.8" textLength="118.5" lengthAdjust="spacingAndGlyphs">CN25</text>
<text transform="translate(578.8,362.7) scale(0.1)" font-size="43.6" fill="#2aa9ec" stroke="#2aa9ec" stroke-width="1.8" textLength="109" lengthAdjust="spacingAndGlyphs">CN27</text>
<rect x="569.2" y="356.4" width="6.8" height="4.4" fill="#fff"/>
<text transform="translate(570,359.7) scale(0.1)" font-size="29.07" fill="#222" font-weight="bold" stroke="#222" stroke-width="3" textLength="55" lengthAdjust="spacingAndGlyphs">48</text>
<line x1="568.3" y1="372.5" x2="576.4" y2="372.5" stroke="#262626" stroke-width="3"/>
<line x1="576.4" y1="368.1" x2="576.4" y2="376" stroke="#262626" stroke-width="1.8"/>
<rect x="569.2" y="366" width="6.8" height="4.3" fill="#fff"/>
<text transform="translate(570,369.2) scale(0.1)" font-size="29.07" fill="#222" font-weight="bold" stroke="#222" stroke-width="3" textLength="55" lengthAdjust="spacingAndGlyphs">65</text>
<text transform="translate(579.9,371.2) scale(0.1)" font-size="63.95" fill="#ee2a2e" font-weight="bold" stroke="#ee2a2e" stroke-width="3.5" textLength="151" lengthAdjust="spacingAndGlyphs">Bd31</text>
<line x1="576" y1="375.25" x2="586" y2="375.25" stroke="#262626" stroke-width="3"/>
<line x1="586" y1="373.1" x2="586" y2="377.9" stroke="#262626" stroke-width="1.2"/>
<line x1="586" y1="373.6" x2="594" y2="373.6" stroke="#262626" stroke-width="1.2"/>
<text transform="translate(597.25,375.5) scale(0.1)" font-size="43.6" fill="#2fb37a" stroke="#2fb37a" stroke-width="1.8" textLength="112.5" lengthAdjust="spacingAndGlyphs">Texas</text>
<line x1="586" y1="377.4" x2="594" y2="377.4" stroke="#262626" stroke-width="1.2"/>
<text transform="translate(597.25,379.1) scale(0.1)" font-size="39.24" fill="#444" stroke="#444" stroke-width="1.2" textLength="367.5" lengthAdjust="spacingAndGlyphs">AD27 Bd JG77 78</text>
<line x1="568.3" y1="386.1" x2="576.6" y2="386.1" stroke="#262626" stroke-width="1.2"/>
<line x1="576.6" y1="381.25" x2="576.6" y2="390.75" stroke="#262626" stroke-width="1.2"/>
<line x1="576.6" y1="381.75" x2="587.25" y2="381.75" stroke="#262626" stroke-width="1.2"/>
<text transform="translate(589,384.1) scale(0.1)" font-size="39.24" fill="#444" stroke="#444" stroke-width="1.2" textLength="107.5" lengthAdjust="spacingAndGlyphs">TK09</text>
<text transform="translate(578.75,386.85) scale(0.1)" font-size="39.24" fill="#444" stroke="#444" stroke-width="1.2" textLength="110" lengthAdjust="spacingAndGlyphs">MA04</text>
<line x1="576.6" y1="390.25" x2="586.6" y2="390.25" stroke="#262626" stroke-width="1.2"/>
<text transform="translate(589,392.45) scale(0.1)" font-size="39.24" fill="#444" stroke="#444" stroke-width="1.2" textLength="107.5" lengthAdjust="spacingAndGlyphs">SG01</text>
<line x1="568.3" y1="438.5" x2="576.25" y2="438.5" stroke="#262626" stroke-width="1.2"/>
<line x1="576.25" y1="393.8" x2="576.25" y2="482.4" stroke="#262626" stroke-width="1.3"/>
<text transform="translate(578.75,397.1) scale(0.1)" font-size="63.95" fill="#ee2a2e" font-weight="bold" stroke="#ee2a2e" stroke-width="3.5" textLength="162.5" lengthAdjust="spacingAndGlyphs">Bd28</text>
<line x1="576.25" y1="398" x2="586.6" y2="398" stroke="#262626" stroke-width="1.2"/>
<text transform="translate(588.75,401.4) scale(0.1)" font-size="43.6" fill="#2aa9ec" stroke="#2aa9ec" stroke-width="1.8" textLength="110" lengthAdjust="spacingAndGlyphs">CN28</text>
<text transform="translate(578.5,405.1) scale(0.1)" font-size="43.6" fill="#2aa9ec" stroke="#2aa9ec" stroke-width="1.8" textLength="94" lengthAdjust="spacingAndGlyphs">CN8</text>
<line x1="576.25" y1="408" x2="586" y2="408" stroke="#262626" stroke-width="1.2"/>
<line x1="586" y1="404.75" x2="586" y2="409.75" stroke="#262626" stroke-width="1.2"/>
<text transform="translate(589.5,408.3) scale(0.1)" font-size="63.95" fill="#ee2a2e" font-weight="bold" stroke="#ee2a2e" stroke-width="3.5" textLength="162.5" lengthAdjust="spacingAndGlyphs">Bd45</text>
<text transform="translate(588.75,413) scale(0.1)" font-size="43.6" fill="#2aa9ec" stroke="#2aa9ec" stroke-width="1.8" textLength="91.5" lengthAdjust="spacingAndGlyphs">CN7</text>
<line x1="576.25" y1="423" x2="586.6" y2="423" stroke="#262626" stroke-width="3"/>
<line x1="586.6" y1="413.1" x2="586.6" y2="431.5" stroke="#262626" stroke-width="1.3"/>
<text transform="translate(589,417.4) scale(0.1)" font-size="55.23" fill="#ee2a2e" font-weight="bold" stroke="#ee2a2e" stroke-width="3.5" textLength="42.5" lengthAdjust="spacingAndGlyphs">Z</text>
<text transform="translate(597.25,420.15) scale(0.1)" font-size="55.23" fill="#ee2a2e" font-weight="bold" stroke="#ee2a2e" stroke-width="3.5" textLength="35" lengthAdjust="spacingAndGlyphs">V</text>
<text transform="translate(588.25,423.9) scale(0.1)" font-size="43.6" fill="#2fb37a" stroke="#2fb37a" stroke-width="1.8" textLength="227.5" lengthAdjust="spacingAndGlyphs">CW04ITSF</text>
<line x1="586.6" y1="427.25" x2="594.75" y2="427.25" stroke="#262626" stroke-width="1.2"/>
<text transform="translate(598.5,428.75) scale(0.1)" font-size="43.6" fill="#2fb37a" stroke="#2fb37a" stroke-width="1.8" textLength="315" lengthAdjust="spacingAndGlyphs">Pclade/Brazil</text>
<line x1="586.6" y1="431" x2="594.75" y2="431" stroke="#262626" stroke-width="1.2"/>
<text transform="translate(598.25,432.85) scale(0.1)" font-size="39.24" fill="#444" stroke="#444" stroke-width="1.2" textLength="190" lengthAdjust="spacingAndGlyphs">MF20901</text>
<line x1="576.25" y1="447.75" x2="586" y2="447.75" stroke="#262626" stroke-width="1.2"/>
<line x1="586" y1="438.9" x2="586" y2="456.75" stroke="#262626" stroke-width="1.2"/>
<line x1="586" y1="439.4" x2="594.1" y2="439.4" stroke="#262626" stroke-width="1.2"/>
<line x1="594.1" y1="434.5" x2="594.1" y2="444.25" stroke="#262626" stroke-width="1.2"/>
<text transform="translate(597,438.15) scale(0.1)" font-size="55.23" fill="#ee2a2e" font-weight="bold" stroke="#ee2a2e" stroke-width="3.5" textLength="27.5" lengthAdjust="spacingAndGlyphs">L</text>
<line x1="594.1" y1="439.4" x2="604" y2="439.4" stroke="#262626" stroke-width="1.2"/>
<text transform="translate(606,440) scale(0.1)" font-size="43.6" fill="#2aa9ec" stroke="#2aa9ec" stroke-width="1.8" textLength="87.5" lengthAdjust="spacingAndGlyphs">CN1</text>
<text transform="translate(594.75,444) scale(0.1)" font-size="43.6" fill="#2fb37a" stroke="#2fb37a" stroke-width="1.8" textLength="237.5" lengthAdjust="spacingAndGlyphs">CW04ITSN</text>
<line x1="586" y1="456.25" x2="594.1" y2="456.25" stroke="#262626" stroke-width="1.2"/>
<line x1="594.1" y1="447.25" x2="594.1" y2="464.25" stroke="#262626" stroke-width="1.2"/>
<line x1="594.1" y1="447.75" x2="604" y2="447.75" stroke="#262626" stroke-width="1.2"/>
<text transform="translate(606.6,449.65) scale(0.1)" font-size="55.23" fill="#ee2a2e" font-weight="bold" stroke="#ee2a2e" stroke-width="3.5" textLength="50" lengthAdjust="spacingAndGlyphs">W</text>
<line x1="594.1" y1="451.8" x2="658" y2="451.8" stroke="#666" stroke-width="1.6"/>
<text transform="translate(660.3,453.4) scale(0.1)" font-size="49.42" fill="#ee2a2e" font-weight="bold" stroke="#ee2a2e" stroke-width="3.5" textLength="39" lengthAdjust="spacingAndGlyphs">D</text>
<text transform="translate(597,458.6) scale(0.1)" font-size="61.05" fill="#ee2a2e" font-weight="bold" stroke="#ee2a2e" stroke-width="3.5" textLength="162.5" lengthAdjust="spacingAndGlyphs">Bd29</text>
<text transform="translate(596.25,462.5) scale(0.1)" font-size="43.6" fill="#2fb37a" stroke="#2fb37a" stroke-width="1.8" textLength="227.5" lengthAdjust="spacingAndGlyphs">CW04ITSK</text>
<line x1="594.1" y1="463.75" x2="605.75" y2="463.75" stroke="#262626" stroke-width="1.2"/>
<text transform="translate(606,466.35) scale(0.1)" font-size="39.24" fill="#444" stroke="#444" stroke-width="1.2" textLength="112.5" lengthAdjust="spacingAndGlyphs">PT12</text>
<line x1="576.25" y1="481.9" x2="586" y2="481.9" stroke="#262626" stroke-width="1.2"/>
<line x1="586" y1="467.6" x2="586" y2="496.5" stroke="#262626" stroke-width="1.3"/>
<text transform="translate(589,471.1) scale(0.1)" font-size="61.05" fill="#ee2a2e" font-weight="bold" stroke="#ee2a2e" stroke-width="3.5" textLength="155" lengthAdjust="spacingAndGlyphs">Bd41</text>
<line x1="586" y1="472.25" x2="594" y2="472.25" stroke="#262626" stroke-width="1.2"/>
<text transform="translate(598.25,475.6) scale(0.1)" font-size="61.05" fill="#ee2a2e" font-weight="bold" stroke="#ee2a2e" stroke-width="3.5" textLength="158.5" lengthAdjust="spacingAndGlyphs">Bd42</text>
<text transform="translate(588.25,477.75) scale(0.1)" font-size="43.6" fill="#2aa9ec" stroke="#2aa9ec" stroke-width="1.8" textLength="115" lengthAdjust="spacingAndGlyphs">CN10</text>
<line x1="586" y1="480.6" x2="594" y2="480.6" stroke="#262626" stroke-width="1.2"/>
<text transform="translate(597,482.5) scale(0.1)" font-size="43.6" fill="#2aa9ec" stroke="#2aa9ec" stroke-width="1.8" textLength="112.5" lengthAdjust="spacingAndGlyphs">CN11</text>
<line x1="586" y1="486.25" x2="594" y2="486.25" stroke="#262626" stroke-width="3"/>
<text transform="translate(597.9,486.3) scale(0.1)" font-size="55.23" fill="#ee2a2e" font-weight="bold" stroke="#ee2a2e" stroke-width="3.5" textLength="14" lengthAdjust="spacingAndGlyphs">I</text>
<text transform="translate(587.5,492.5) scale(0.1)" font-size="43.6" fill="#222" font-weight="bold" stroke="#222" stroke-width="3" textLength="45" lengthAdjust="spacingAndGlyphs">65</text>
<line x1="586" y1="496" x2="594" y2="496" stroke="#262626" stroke-width="1.2"/>
<line x1="594" y1="488.9" x2="594" y2="500.25" stroke="#262626" stroke-width="1.2"/>
<text transform="translate(597.25,491.25) scale(0.1)" font-size="43.6" fill="#2fb37a" stroke="#2fb37a" stroke-width="1.8" textLength="231.5" lengthAdjust="spacingAndGlyphs">CW04ITSH</text>
<text transform="translate(598.25,495.6) scale(0.1)" font-size="61.05" fill="#ee2a2e" font-weight="bold" stroke="#ee2a2e" stroke-width="3.5" textLength="155" lengthAdjust="spacingAndGlyphs">Bd40</text>
<line x1="603.9" y1="497.5" x2="640.4" y2="497.5" stroke="#444" stroke-width="1.2"/>
<text transform="translate(645,500.3) scale(0.1)" font-size="52.33" fill="#ee2a2e" font-weight="bold" stroke="#ee2a2e" stroke-width="3.5" textLength="41" lengthAdjust="spacingAndGlyphs">X</text>
<line x1="594" y1="499.4" x2="603.9" y2="499.4" stroke="#262626" stroke-width="1.2"/>
<line x1="603.9" y1="497" x2="603.9" y2="502" stroke="#262626" stroke-width="1.2"/>
<line x1="603.9" y1="501.4" x2="612.9" y2="501.4" stroke="#262626" stroke-width="1.2"/>
<text transform="translate(616.25,504.3) scale(0.1)" font-size="52.33" fill="#ee2a2e" font-weight="bold" stroke="#ee2a2e" stroke-width="3.5" textLength="45" lengthAdjust="spacingAndGlyphs">U</text>
<path d="M675.3,200.6 H679.7 V505.8 H675.3" fill="none" stroke="#333" stroke-width="1.6"/>
<text transform="translate(683.3,347.8) scale(0.1)" font-size="101.74" fill="#2b2b2b" font-weight="bold" textLength="437" lengthAdjust="spacingAndGlyphs">Group IV</text>
<path d="M598.9,206.6 L602.3,203.6 L602.3,205 L611.5,205 L611.5,208.2 L602.3,208.2 L602.3,209.6 Z" fill="#ee2a2e"/>
<path d="M601.4,212.9 L604.8,209.9 L604.8,211.3 L614,211.3 L614,214.5 L604.8,214.5 L604.8,215.9 Z" fill="#ee2a2e"/>
<path d="M623.9,229.5 L627.3,226.5 L627.3,227.9 L636.5,227.9 L636.5,231.1 L627.3,231.1 L627.3,232.5 Z" fill="#ee2a2e"/>
<path d="M612.25,244.5 L615.65,241.5 L615.65,242.9 L624.85,242.9 L624.85,246.1 L615.65,246.1 L615.65,247.5 Z" fill="#ee2a2e"/>
<path d="M606.2,259.2 L609.6,256.2 L609.6,257.6 L618.8,257.6 L618.8,260.8 L609.6,260.8 L609.6,262.2 Z" fill="#ee2a2e"/>
<path d="M601.9,267.8 L605.3,264.8 L605.3,266.2 L614.5,266.2 L614.5,269.4 L605.3,269.4 L605.3,270.8 Z" fill="#ee2a2e"/>
<path d="M618.4,289.1 L621.8,286.1 L621.8,287.5 L631,287.5 L631,290.7 L621.8,290.7 L621.8,292.1 Z" fill="#ee2a2e"/>
<path d="M618.1,283.5 L621.5,280.5 L621.5,281.9 L630.7,281.9 L630.7,285.1 L621.5,285.1 L621.5,286.5 Z" fill="#ee2a2e"/>
<path d="M616.2,294.1 L619.6,291.1 L619.6,292.5 L628.8,292.5 L628.8,295.7 L619.6,295.7 L619.6,297.1 Z" fill="#ee2a2e"/>
<path d="M616.1,298.5 L619.5,295.5 L619.5,296.9 L628.7,296.9 L628.7,300.1 L619.5,300.1 L619.5,301.5 Z" fill="#ee2a2e"/>
<path d="M607.8,291.3 L611.2,288.3 L611.2,289.7 L620.4,289.7 L620.4,292.9 L611.2,292.9 L611.2,294.3 Z" fill="#ee2a2e"/>
<path d="M624,356.9 L627.4,353.9 L627.4,355.3 L636.6,355.3 L636.6,358.5 L627.4,358.5 L627.4,359.9 Z" fill="#ee2a2e"/>
<path d="M623.6,394.25 L627,391.25 L627,392.65 L636.2,392.65 L636.2,395.85 L627,395.85 L627,397.25 Z" fill="#ee2a2e"/>
<path d="M624.2,406.2 L627.6,403.2 L627.6,404.6 L636.8,404.6 L636.8,407.8 L627.6,407.8 L627.6,409.2 Z" fill="#ee2a2e"/>
<path d="M633.7,447.4 L637.1,444.4 L637.1,445.8 L646.3,445.8 L646.3,449 L637.1,449 L637.1,450.4 Z" fill="#ee2a2e"/>
<path d="M633.7,455.9 L637.1,452.9 L637.1,454.3 L646.3,454.3 L646.3,457.5 L637.1,457.5 L637.1,458.9 Z" fill="#ee2a2e"/>
<path d="M628.25,468.5 L631.65,465.5 L631.65,466.9 L640.85,466.9 L640.85,470.1 L631.65,470.1 L631.65,471.5 Z" fill="#ee2a2e"/>
<path d="M634.1,474.4 L637.5,471.4 L637.5,472.8 L646.7,472.8 L646.7,476 L637.5,476 L637.5,477.4 Z" fill="#ee2a2e"/>
<path d="M623.75,484.4 L627.15,481.4 L627.15,482.8 L636.35,482.8 L636.35,486 L627.15,486 L627.15,487.4 Z" fill="#ee2a2e"/>
<path d="M628.25,493.1 L631.65,490.1 L631.65,491.5 L640.85,491.5 L640.85,494.7 L631.65,494.7 L631.65,496.1 Z" fill="#ee2a2e"/>
<use href="#sal" transform="translate(620.8,206.3) scale(1,1)"/>
</svg>
</body></html>
